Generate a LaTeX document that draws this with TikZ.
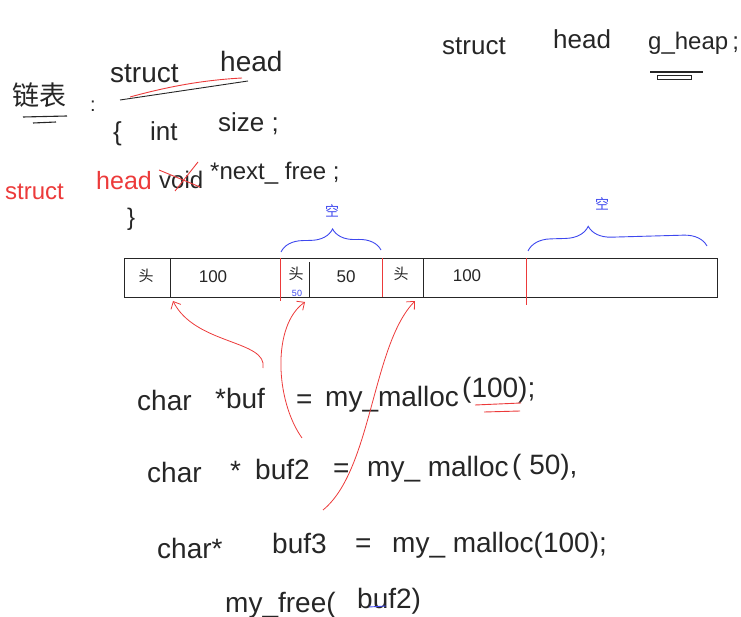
\documentclass[tikz,border=0pt]{standalone}
\usepackage{fontspec}
\setmainfont{Liberation Sans}
\newfontfamily\cjkfont{Noto Sans CJK SC}
\usetikzlibrary{arrows.meta,decorations.pathreplacing}
\usepackage{xcolor}
\definecolor{penred}{RGB}{236,58,58}
\definecolor{penblue}{RGB}{62,72,238}
\definecolor{penink}{RGB}{38,38,38}

\begin{document}
\begin{tikzpicture}[x=1pt, y=-1pt, >={Straight Barb[length=6pt,width=11pt]},
    hand/.style={font=\fontsize{#1}{#1}\selectfont, text=penink,
                 inner sep=0pt, anchor=base west},
    hand/.default=28,
    redhand/.style={hand=#1, text=penred},
    redhand/.default=24,
    cell/.style={font=\fontsize{17}{17}\selectfont, text=penink, inner sep=0pt},
    blk/.style={draw=penink, line width=0.9pt},
    rdiv/.style={draw=penred, line width=0.9pt},
    ptr/.style={->, draw=penred, line width=0.8pt},
    gap/.style={draw=penblue, line width=0.9pt, decorate,
                decoration={brace, amplitude=#1}}]

  \useasboundingbox (0,0) rectangle (741,617);

  %% Struct definition (top left)
  \node[hand=28, font=\cjkfont\fontsize{27}{27}\selectfont] (lbl) at (12,106) {链表};
  \draw[blk, line width=1.1pt] (23,117) -- (67,116);
  \draw[blk, line width=1.1pt] (33,123) -- (56,122);
  \node[hand=20] (colon) at (90,112) {:};
  \node[hand=28] (st1) at (110,83) {struct};
  \node[hand=28] (hd1) at (220,72) {head};
  \draw[rdiv] (130,97) .. controls (170,86) and (205,80) .. (242,78);
  \draw[blk] (120,100) -- (248,81);
  \node[hand=26] (lbr) at (113,141) {\{};
  \node[hand=26] (int) at (150,141) {int};
  \node[hand=26] (size) at (218,132) {size ;};
  \node[redhand=24] (st2) at (5,200) {struct};
  \node[redhand=25] (hd2) at (96,190) {head};
  \node[hand=24] (void) at (159,189) {void};
  \draw[rdiv] (159,170) -- (200,187);
  \draw[rdiv] (175,191) -- (198,162);
  \node[hand=24] (nxt) at (210,180) {*next\_ free ;};
  \node[hand=24] (rbr) at (127,226) {\}};

  %% Global heap (top right)
  \node[hand=26] (st3) at (442,55) {struct};
  \node[hand=26] (hd3) at (553,49) {head};
  \node[hand=24] (gh) at (648,50) {g\_heap\,;};
  \draw[blk, line width=1.3pt] (650,72) -- (703,72);
  \draw[blk, line width=0.7pt] (657,75) rectangle (691,79);

  %% Memory bar
  \node[blk, minimum width=593pt, minimum height=39pt, inner sep=0pt]
       (heap) at (420.5,277.5) {};
  \draw[blk] (170,258) -- (170,297);
  \draw[blk] (309,262) -- (309,297);
  \draw[blk] (423,259) -- (423,297);
  \draw[rdiv] (280,258) -- (280,301);
  \draw[rdiv] (382,258) -- (382,297);
  \draw[rdiv] (526,258) -- (526,305);
  \node[cell, font=\cjkfont\fontsize{15}{15}\selectfont] (h1) at (146,276) {头};
  \node[cell] (s1) at (213,277) {100};
  \node[cell, font=\cjkfont\fontsize{15}{15}\selectfont] (h2) at (296,274) {头};
  \node[cell, text=penblue, font=\fontsize{9}{9}\selectfont] (s2b) at (297,293) {50};
  \node[cell] (s2) at (346,277) {50};
  \node[cell, font=\cjkfont\fontsize{15}{15}\selectfont] (h3) at (401,274) {头};
  \node[cell] (s3) at (467,276) {100};

  %% Free regions
  \draw[gap=22pt, decoration={aspect=0.52}] (281,252) -- (381,250);
  \draw[gap=23pt, decoration={aspect=0.34}] (528,251) -- (707,246);
  \node[cell, text=penblue, font=\cjkfont\fontsize{14}{14}\selectfont] (e1) at (332,211) {空};
  \node[cell, text=penblue, font=\cjkfont\fontsize{14}{14}\selectfont] (e2) at (602,204) {空};

  %% Allocation calls
  \node[hand] (c1) at (137,410) {char};
  \node[hand] (v1) at (215,408) {*buf};
  \node[hand] (q1) at (296,408) {=};
  \node[hand] (m1) at (325,406) {my\_malloc};
  \node[hand] (a1) at (462,397) {(100);};
  \draw[rdiv] (475,405) -- (521,403);
  \draw[rdiv] (484,412) -- (520,411);

  \node[hand] (c2) at (147,482) {char};
  \node[hand] (v2) at (230,480) {*};
  \node[hand] (b2) at (255,479) {buf2};
  \node[hand] (q2) at (333,477) {=};
  \node[hand] (m2) at (367,476) {my\_ malloc};
  \node[hand] (a2) at (512,474) {( 50),};

  \node[hand] (c3) at (157,558) {char*};
  \node[hand] (b3) at (272,553) {buf3};
  \node[hand] (q3) at (355,552) {=};
  \node[hand] (m3) at (392,552) {my\_ malloc(100);};

  \node[hand] (fr) at (225,612) {my\_free(};
  \node[hand] (b4) at (357,608) {buf2)};
  \draw[draw=penblue, line width=0.9pt] (369,607) -- (386,606);

  %% Pointers into the bar
  \coordinate (p1) at (263,368);
  \coordinate (p2) at (302,438);
  \coordinate (p3) at (323,510);
  \coordinate (t1) at (173,301);
  \coordinate (t2) at (305,302);
  \coordinate (t3) at (415,301);
  \draw[ptr] (p1) .. controls (268,340) and (195,345) .. (t1);
  \draw[ptr] (p2) .. controls (275,400) and (272,325) .. (t2);
  \draw[ptr] (p3) .. controls (372,470) and (372,345) .. (t3);
\end{tikzpicture}
\end{document}
